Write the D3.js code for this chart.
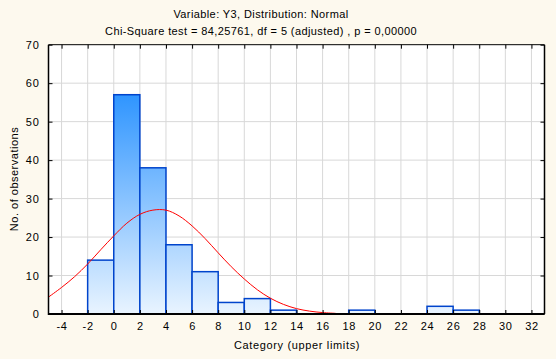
<!DOCTYPE html>
<html><head><meta charset="utf-8">
<script src="https://cdn.jsdelivr.net/npm/d3@7/dist/d3.min.js"></script>
<style>
html,body{margin:0;padding:0;background:#FDF9EE;}
svg{display:block;}
text{font-family:"Liberation Sans",Arial,sans-serif;fill:#000;}
</style></head><body>
<svg id="c" width="556" height="359"></svg>
<script>
// Data
const titleLines = ["Variable: Y3, Distribution: Normal", "Chi-Square test = 84,25761, df = 5 (adjusted) , p = 0,00000"];
const xLabel = "Category (upper limits)";
const yLabel = "No. of observations";
const binStarts = [-2, 0, 2, 4, 6, 8, 10, 12, 14, 16, 18, 20, 22, 24, 26];
const binWidth = 2;
const counts = [14, 57, 38, 18, 11, 3, 4, 1, 0, 0, 1, 0, 0, 2, 1];
const xTicks = [-4, -2, 0, 2, 4, 6, 8, 10, 12, 14, 16, 18, 20, 22, 24, 26, 28, 30, 32];
const yTicks = [0, 10, 20, 30, 40, 50, 60, 70];
const curveX = [-5, -4, -3, -2, -1, 0, 1, 2, 3, 4, 5, 6, 7, 8, 9, 10, 11, 12, 13, 14, 15, 16, 17];
const curveY = [4.4, 6.9, 9.7, 13.0, 16.7, 20.3, 23.6, 25.9, 27.0, 27.0, 25.5, 22.9, 19.6, 15.9, 12.3, 9.1, 6.3, 4.1, 2.5, 1.4, 0.75, 0.37, 0.17];

const svg = d3.select("#c");
const L = 48.5, R = 544.5, T = 44.7, B = 314;
const x = d3.scaleLinear().domain([-5, 33]).range([L, R]);
const y = d3.scaleLinear().domain([0, 70]).range([B, T]);

const defs = svg.append("defs");
const g = defs.append("linearGradient").attr("id", "bg")
  .attr("gradientUnits", "userSpaceOnUse")
  .attr("x1", 0).attr("x2", 0).attr("y1", y(57)).attr("y2", y(0));
g.append("stop").attr("offset", 0).attr("stop-color", "#2F95FF");
g.append("stop").attr("offset", 1).attr("stop-color", "#E9F4FF");

// plot bg
svg.append("rect").attr("x", L).attr("y", T).attr("width", R - L).attr("height", B - T).attr("fill", "#fff");

// grid
svg.append("g").selectAll("line").data(xTicks).join("line")
  .attr("x1", d => x(d)).attr("x2", d => x(d)).attr("y1", T).attr("y2", B)
  .attr("stroke", "#D8D8D8").attr("stroke-width", 1);
svg.append("g").selectAll("line").data(yTicks.slice(1, -1)).join("line")
  .attr("x1", L).attr("x2", R).attr("y1", d => y(d)).attr("y2", d => y(d))
  .attr("stroke", "#D8D8D8").attr("stroke-width", 1);

// bars
svg.append("g").selectAll("rect").data(binStarts.map((s, i) => ({s, c: counts[i]})).filter(d => d.c > 0)).join("rect")
  .attr("x", d => x(d.s)).attr("width", d => x(d.s + binWidth) - x(d.s))
  .attr("y", d => y(d.c)).attr("height", d => y(0) - y(d.c))
  .attr("fill", "url(#bg)").attr("stroke", "#0044CC").attr("stroke-width", 1.5);

// curve
const pts = curveX.map((v, i) => [v, curveY[i]]);
svg.append("path").datum(pts)
  .attr("d", d3.line().x(d => x(d[0])).y(d => y(d[1])).curve(d3.curveCatmullRom))
  .attr("fill", "none").attr("stroke", "#FF0000").attr("stroke-width", 1);

// frame with inward ticks
const fmt = d => String(d);
const axB = d3.axisBottom(x).tickValues(xTicks).tickSize(-4).tickPadding(8).tickFormat(fmt);
const axT = d3.axisTop(x).tickValues(xTicks).tickSize(-4).tickFormat("");
const axL = d3.axisLeft(y).tickValues(yTicks).tickSize(-4).tickPadding(9).tickFormat(fmt);
const axR = d3.axisRight(y).tickValues(yTicks).tickSize(-4).tickFormat("");
function style(sel) {
  sel.select(".domain").remove();
  sel.selectAll(".tick line").attr("stroke", "#000");
  sel.selectAll("text").style("font-size", "11px").style("font-family", "'Liberation Sans',Arial,sans-serif").attr("fill", "#000");
}
svg.append("g").attr("transform", `translate(0,${B})`).call(axB).call(style);
svg.append("g").attr("transform", `translate(0,${T})`).call(axT).call(style);
svg.append("g").attr("transform", `translate(${L},0)`).call(axL).call(style);
svg.append("g").attr("transform", `translate(${R},0)`).call(axR).call(style);
svg.selectAll("g.tick text").attr("letter-spacing", "0.7px");

svg.append("line").attr("x1", L).attr("x2", R).attr("y1", T).attr("y2", T).attr("stroke", "#000").attr("stroke-width", 1);
svg.append("line").attr("x1", R).attr("x2", R).attr("y1", T).attr("y2", B).attr("stroke", "#000").attr("stroke-width", 1.5);
svg.append("line").attr("x1", L).attr("x2", R).attr("y1", B).attr("y2", B).attr("stroke", "#000").attr("stroke-width", 2);
svg.append("line").attr("x1", L).attr("x2", L).attr("y1", T).attr("y2", B + 1).attr("stroke", "#000").attr("stroke-width", 1.5);

// titles
svg.append("text").attr("x", 261).attr("y", 18).attr("text-anchor", "middle").attr("letter-spacing", "0.4px").style("font-size", "11px").text(titleLines[0]);
svg.append("text").attr("x", 261).attr("y", 35).attr("text-anchor", "middle").attr("letter-spacing", "0.4px").style("font-size", "11px").text(titleLines[1]);
svg.append("text").attr("x", 297).attr("y", 349).attr("text-anchor", "middle").attr("letter-spacing", "0.65px").style("font-size", "11px").text(xLabel);
svg.append("text").attr("transform", "translate(18,179) rotate(-90)").attr("text-anchor", "middle").attr("letter-spacing", "0.5px").style("font-size", "11px").text(yLabel);
</script>
</body></html>
